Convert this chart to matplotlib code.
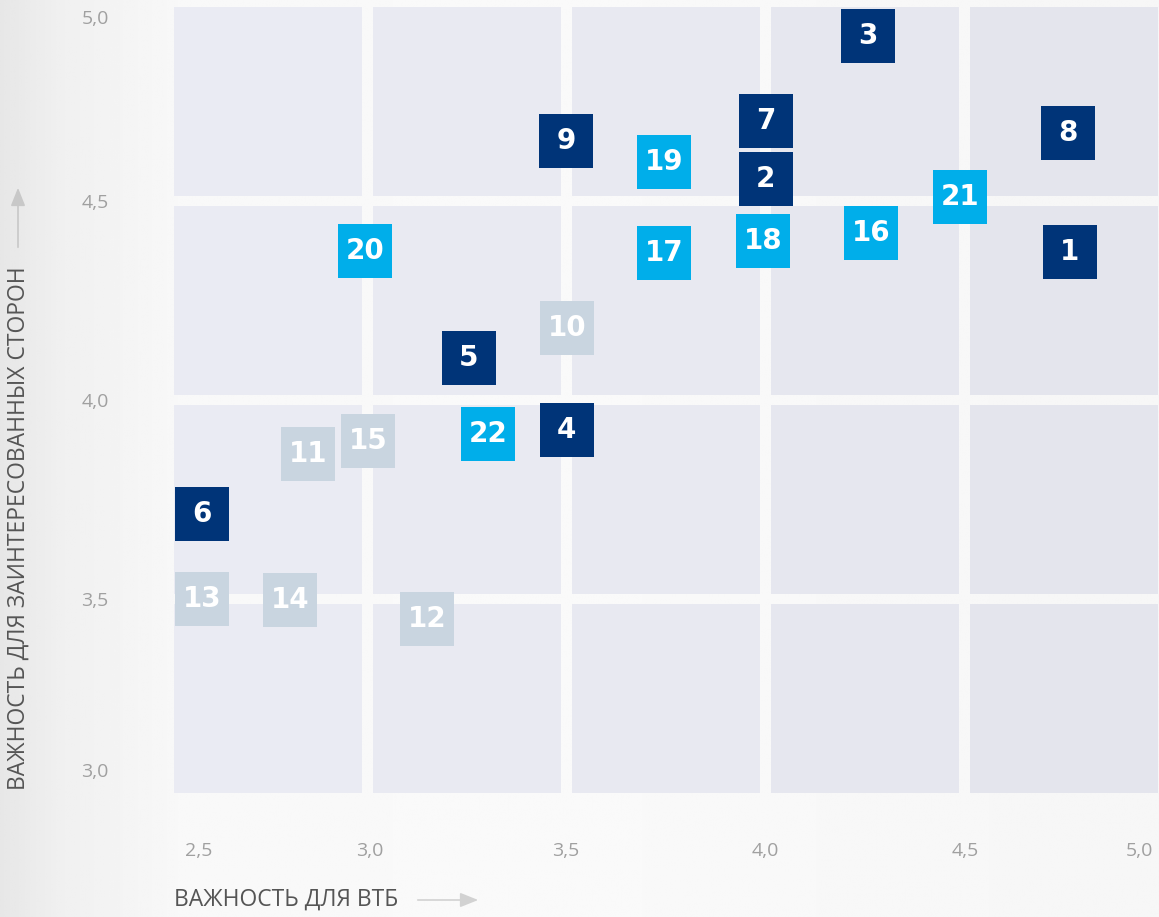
import numpy as np
import matplotlib.pyplot as plt
from matplotlib.patches import Rectangle, FancyArrowPatch

# Topic numbers and their scores (importance for VTB, importance for stakeholders)
topic_ids = list(range(1, 23))
vtb_score = [4.765, 4.00, 4.258, 3.501, 3.255, 2.584, 4.00, 4.76, 3.499, 3.501, 2.851,
             3.149, 2.584, 2.805, 3.001, 4.265, 3.745, 3.994, 3.745, 2.994, 4.489, 3.303]
stake_score = [4.372, 4.555, 4.915, 3.925, 4.106, 3.714, 4.70, 4.67, 4.651, 4.181, 3.864,
               3.45, 3.50, 3.497, 3.897, 4.42, 4.369, 4.40, 4.598, 4.374, 4.51, 3.915]
# group: 0 = dark, 1 = light grey, 2 = bright blue
topic_group = [0, 0, 0, 0, 0, 0, 0, 0, 0, 1, 1, 1, 1, 1, 1, 2, 2, 2, 2, 2, 2, 2]

x_tick_labels = ['2,5', '3,0', '3,5', '4,0', '4,5', '5,0']
y_tick_labels = ['3,0', '3,5', '4,0', '4,5', '5,0']

group_colors = ['#003478', '#c9d5e0', '#00aeea']

W, H = 1159, 917
fig = plt.figure(figsize=(W / 100, H / 100), dpi=100)

# background gradient (grey on the left, fading to near white)
bg = fig.add_axes([0, 0, 1, 1])
xs = np.linspace(0, 1, 400)
vals = np.interp(xs, [0, 0.05, 0.16, 0.5, 1.0], [0.905, 0.94, 0.975, 0.978, 0.965])
bg.imshow(np.tile(vals, (10, 1)), cmap='gray', vmin=0, vmax=1, aspect='auto',
          extent=[0, 1, 0, 1])
bg.set_axis_off()

# main axes: x 2.5..5.0, y 3.0..5.0
ax = fig.add_axes([168.5 / W, (H - 798) / H, 995 / W, 796 / H])
ax.set_xlim(2.5, 5.0)
ax.set_ylim(3.0, 5.0)
ax.patch.set_alpha(0)
for s in ax.spines.values():
    s.set_visible(False)

# grid panels with white gaps between them
gap = 0.0138
col_colors = ['#eaebf3', '#e9eaf2', '#e8e9f1', '#e6e7ef', '#e4e5ed']
for i, x0 in enumerate(np.arange(2.5, 5.0, 0.5)):
    for y0 in np.arange(3.0, 5.0, 0.5):
        ax.add_patch(Rectangle((x0 + gap, y0 + gap), 0.5 - 2 * gap, 0.5 - 2 * gap,
                               facecolor=col_colors[i], edgecolor='none', zorder=1))

# topic squares
for tid, xv, yv, g in zip(topic_ids, vtb_score, stake_score, topic_group):
    ax.scatter(xv, yv, s=1512, marker='s', color=group_colors[g], linewidths=0,
               zorder=3, clip_on=False)
    ax.text(xv, yv, str(tid), color='white', fontsize=20, fontweight='bold',
            family='DejaVu Sans', ha='center', va='center', zorder=4)

# tick labels (placed slightly inward at the ends, as in the original)
ax.set_xticks([2.577, 3.006, 3.499, 4.0, 4.503, 4.94])
ax.set_xticklabels(x_tick_labels)
ax.set_yticks([3.07, 3.5, 4.0, 4.5, 4.963])
ax.set_yticklabels(y_tick_labels)
ax.tick_params(axis='both', length=0, colors='#a0a0a0', labelsize=14)
ax.tick_params(axis='x', pad=32)
ax.tick_params(axis='y', pad=43)
for lab in ax.get_xticklabels() + ax.get_yticklabels():
    lab.set_family('Open Sans')

# axis titles with arrows
fig.text(174 / W, 1 - 900 / H, 'ВАЖНОСТЬ ДЛЯ ВТБ', fontsize=16.5, color='#555555',
         family='Open Sans', ha='left', va='center')
fig.text(19 / W, 1 - 790 / H, 'ВАЖНОСТЬ ДЛЯ ЗАИНТЕРЕСОВАННЫХ СТОРОН', fontsize=16.5,
         color='#555555', family='Open Sans', rotation=90, ha='center', va='bottom')
arrow_style = '-|>,head_length=5.5,head_width=2.2'
fig.patches.append(FancyArrowPatch((415 / W, 1 - 900 / H), (481 / W, 1 - 900 / H),
                                   transform=fig.transFigure, arrowstyle=arrow_style,
                                   color='#d2d2d2', lw=1.2, mutation_scale=2))
fig.patches.append(FancyArrowPatch((18 / W, 1 - 250 / H), (18 / W, 1 - 185 / H),
                                   transform=fig.transFigure, arrowstyle=arrow_style,
                                   color='#c8c8c8', lw=1.2, mutation_scale=2))

fig.savefig('out.png', dpi=100)
